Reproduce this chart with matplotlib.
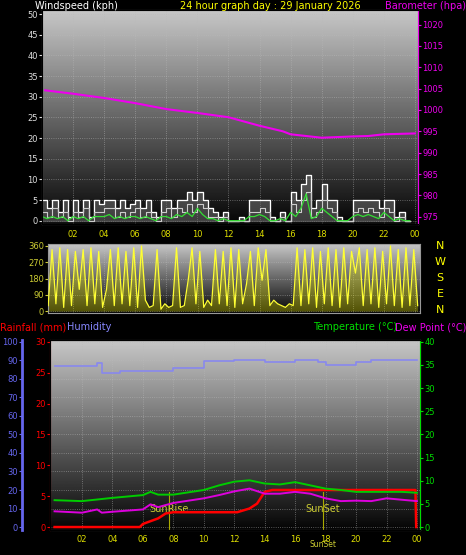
import matplotlib
matplotlib.use("Agg")
import matplotlib.pyplot as plt
import numpy as np

# --- data ---
baro_h = [0.2, 2, 4, 6, 8, 10, 12, 14, 15.5, 16, 17, 18, 20, 21, 22, 24]
baro = [1004.6, 1003.8, 1002.8, 1001.6, 1000.2, 999.3, 998.3, 996.3, 995.0,
        994.3, 993.9, 993.5, 993.8, 993.9, 994.3, 994.5]

wind_h = [i / 3 for i in range(72)]
gust = [5, 3, 5, 2, 5, 1, 5, 2, 5, 1, 5, 4, 5, 5, 3, 5, 3, 4,
        5, 3, 5, 2, 1, 5, 5, 3, 5, 5, 7, 5, 7, 5, 3, 2, 1, 2,
        0, 0, 1, 0, 5, 5, 5, 5, 1, 0, 2, 0, 7, 5, 9, 11, 3, 5,
        9, 5, 5, 1, 0, 0, 5, 5, 5, 5, 5, 3, 5, 5, 1, 2, 0, 0]
speed = [2, 1, 3, 1, 2, 0, 2, 1, 3, 0, 2, 2, 3, 3, 1, 2, 1, 2,
         3, 1, 2, 1, 0, 2, 3, 1, 3, 2, 4, 2, 4, 3, 1, 1, 0, 1,
         0, 0, 0, 0, 2, 2, 3, 2, 0, 0, 1, 0, 4, 2, 5, 7, 1, 2,
         5, 3, 2, 0, 0, 0, 2, 3, 2, 3, 2, 1, 3, 2, 0, 1, 0, 0]
wavg = [1, 0.5, 1, 0.5, 1, 0, 1, 0.5, 1, 0, 1, 1, 1, 1.5, 0.5, 1, 0.5, 1,
        1, 0.5, 1, 0.5, 0, 1, 1, 0.5, 1.5, 1, 2, 1, 3, 1.5, 0.5, 0.5, 0, 0.5,
        0, 0, 0, 0, 1, 1, 1.5, 1, 0, 0, 0.5, 0, 2, 1, 3, 6.5, 0.5, 1,
        3, 2, 1, 0, 0, 0, 1, 1.5, 1, 1.5, 1, 0.5, 2, 1, 0, 0.5, 0, 0]

dir_h = [0.4 + i / 4 for i in range(96)]
wdir = [30, 340, 40, 350, 20, 340, 30, 330, 120, 340, 30, 350, 40, 330, 20, 120,
        340, 30, 350, 40, 330, 30, 350, 20, 360, 60, 20, 30, 340, 10, 40, 20,
        30, 350, 20, 30, 170, 350, 40, 330, 20, 60, 30, 340, 40, 330, 30, 350,
        20, 340, 40, 150, 330, 30, 350, 170, 340, 30, 60, 40, 30, 20, 40, 30,
        350, 30, 340, 40, 350, 20, 330, 40, 350, 30, 340, 20, 350, 40, 330, 210,
        350, 30, 340, 40, 350, 20, 330, 40, 360, 30, 340, 20, 350, 30, 340, 30]

hum_h = [0.2, 3.0, 3.3, 4.5, 6, 8, 10, 12, 13, 14, 15.5, 16, 17.5, 18, 19.5, 20, 21, 24]
hum = [86.8, 88.6, 83, 84, 84.4, 86, 89.5, 90.4, 90, 89, 89, 90, 89, 87.7, 87.7, 89, 90, 90]

temp_h = [0.2, 2, 4, 6, 6.5, 7, 8, 10, 11, 12, 13, 14, 15, 16, 17, 18, 19, 20, 21, 22, 23, 24]
temp = [5.8, 5.6, 6.3, 6.9, 7.6, 7.0, 7.0, 8.0, 9.0, 9.8, 10.1, 9.4, 9.2, 9.7, 9.0,
        8.3, 8.0, 7.6, 7.6, 7.6, 7.6, 7.4]
dew_h = [0.2, 2, 3, 3.3, 4, 6, 6.5, 7, 8, 10, 11, 12, 13, 14, 15, 16, 17, 18, 19, 20, 21, 22, 23, 24]
dew = [3.4, 3.1, 3.8, 3.1, 3.3, 3.8, 4.9, 4.3, 5.2, 6.2, 6.9, 7.7, 8.3, 7.2, 7.2, 7.6,
       7.2, 6.2, 5.6, 5.7, 5.6, 6.2, 5.9, 5.6]
rain_h = [0.2, 5.8, 6, 7, 7.5, 8, 12.2, 13, 13.5, 14, 14.5, 23.9, 23.95]
rain = [0, 0, 0.5, 1.4, 2.2, 2.4, 2.4, 3.0, 3.8, 5.7, 6.0, 6.0, 0]

sunrise, sunset = 7.7, 17.8
hour_ticks = list(range(2, 25, 2))
hour_labels = [f"{h % 24:02d}" for h in hour_ticks]

W, H = 466, 555
fig = plt.figure(figsize=(W / 100, H / 100), dpi=100, facecolor="black")
FS = 6
TFS = 7
grad = np.linspace(0.78, 0.02, 256).reshape(-1, 1)


def panel(x0, x1, y0, y1):
    ax = fig.add_axes([x0 / W, 1 - y1 / H, (x1 - x0) / W, (y1 - y0) / H])
    ax.set_facecolor("black")
    return ax


def background(ax):
    ax.imshow(grad, cmap="gray", vmin=0, vmax=1, aspect="auto",
              extent=[*ax.get_xlim(), *ax.get_ylim()], zorder=0, origin="upper")
    ax.grid(True, color="#bbbbbb", linestyle=":", linewidth=0.6, alpha=0.6)
    for s in ax.spines.values():
        s.set_color("#999999")


# --- wind / barometer ---
ax1 = panel(42, 418, 10, 224)
ax1.set_xlim(0, 24.2)
ax1.set_ylim(-0.8, 51)
background(ax1)
ax1.fill_between(wind_h, 0, gust, step="post", color="#777777", alpha=0.5, zorder=2)
ax1.step(wind_h, gust, where="post", color="white", lw=0.9, zorder=3)
ax1.step(wind_h, speed, where="post", color="#cccccc", lw=0.8, zorder=3)
ax1.plot(wind_h, wavg, color="#33dd33", lw=0.9, zorder=4)
ax1.set_yticks(range(0, 51, 5))
ax1.set_xticks(hour_ticks)
ax1.set_xticklabels(hour_labels)
ax1.tick_params(axis="x", colors="#dddd00", labelsize=FS, length=0, pad=4)
ax1.tick_params(axis="y", colors="#dddddd", labelsize=FS, length=2, pad=1)
axb = ax1.twinx()
axb.set_ylim(973.3, 1023.4)
axb.plot(baro_h, baro, color="#ee00ee", lw=1.5, zorder=5)
axb.set_yticks(range(975, 1021, 5))
axb.tick_params(axis="y", colors="#ee00ee", labelsize=FS, length=2, pad=1)
axb.spines["right"].set_color("#ee00ee")
fig.text(35 / W, 1 - 6 / H, "Windspeed (kph)", color="white", fontsize=TFS, va="center")
fig.text(270 / W, 1 - 6 / H, "24 hour graph day : 29 January 2026", color="#ffff00",
         fontsize=TFS, va="center", ha="center")
fig.text(466 / W, 1 - 6 / H, "Barometer (hpa)", color="#ee00ee", fontsize=TFS,
         va="center", ha="right")

# --- wind direction ---
ax2 = panel(48, 420, 244, 313)
ax2.set_xlim(0.39, 24.3)
ax2.set_ylim(-11, 371)
background(ax2)
ax2.fill_between(dir_h, 0, wdir, color="#dddd00", alpha=0.35, zorder=2, lw=0)
ax2.plot(dir_h, wdir, color="#ffff33", lw=0.9, zorder=3)
ax2.set_yticks([0, 90, 180, 270, 360])
ax2.set_xticks(hour_ticks)
ax2.tick_params(axis="x", length=0, labelbottom=False)
ax2.tick_params(axis="y", colors="#cccc33", labelsize=FS, length=2, pad=1)
for i, c in enumerate("NWSEN"):
    fig.text(440 / W, 1 - (246 + i * 16) / H, c, color="#ffff00", fontsize=8, ha="center", va="center")

fig.text(0, 1 - 327 / H, "Rainfall (mm)", color="#ff0000", fontsize=TFS, va="center")
fig.text(67 / W, 1 - 327 / H, "Humidity", color="#8888ff", fontsize=TFS, va="center")
fig.text(313 / W, 1 - 327 / H, "Temperature (°C)", color="#00dd00", fontsize=TFS, va="center")
fig.text(466 / W, 1 - 327 / H, "Dew Point (°C)", color="#ee00ee", fontsize=TFS,
         va="center", ha="right")

# --- rain / humidity / temperature ---
ax3 = panel(50, 420, 340, 530)
ax3.set_xlim(-0.1, 24.2)
ax3.set_ylim(-1.6, 101)
background(ax3)
ax3.plot(hum_h, hum, color="#8888ee", lw=1.2, zorder=3, drawstyle="steps-post")
ax3.set_yticks(range(0, 101, 10))
ax3.spines["left"].set_position(("outward", 20))
ax3.spines["left"].set_color("#6666ee")
ax3.spines["left"].set_linewidth(2)
ax3.tick_params(axis="y", colors="#6666ee", labelsize=FS, length=2, pad=1)
ax3.set_xticks(hour_ticks)
ax3.set_xticklabels(hour_labels)
ax3.tick_params(axis="x", colors="#dddd00", labelsize=FS, length=0)
ax3.axvline(sunrise, ymax=0.2, color="#aaaa00", lw=0.8, zorder=2)
ax3.axvline(sunset, ymax=0.2, color="#aaaa00", lw=0.8, zorder=2)
ax3.text(sunrise, 10, "SunRise", color="#cccc33", fontsize=TFS, ha="center", va="center", zorder=6)
ax3.text(sunset, 10, "SunSet", color="#cccc33", fontsize=TFS, ha="center", va="center", zorder=6)
ax3.text(sunset, -9.5, "SunSet", color="#cccc33", fontsize=5.5, ha="center", va="center")

axr = ax3.twinx()
axr.set_ylim(-0.48, 30.3)
axr.yaxis.tick_left()
axr.spines["left"].set_visible(True)
axr.spines["left"].set_color("#ff0000")
axr.spines["right"].set_visible(False)
axr.set_yticks(range(0, 31, 5))
axr.tick_params(axis="y", colors="#ff0000", labelsize=FS, length=2, pad=1)
axr.plot(rain_h, rain, color="#ff0000", lw=1.8, zorder=5)

axt = ax3.twinx()
axt.set_ylim(-0.64, 40.4)
axt.set_yticks(range(0, 41, 5))
axt.tick_params(axis="y", colors="#00dd00", labelsize=FS, length=2, pad=1)
axt.spines["right"].set_color("#00dd00")
axt.plot(temp_h, temp, color="#00cc00", lw=1.4, zorder=4)
axt.plot(dew_h, dew, color="#dd00dd", lw=1.4, zorder=4)

fig.savefig("out.png", dpi=100, facecolor="black")
